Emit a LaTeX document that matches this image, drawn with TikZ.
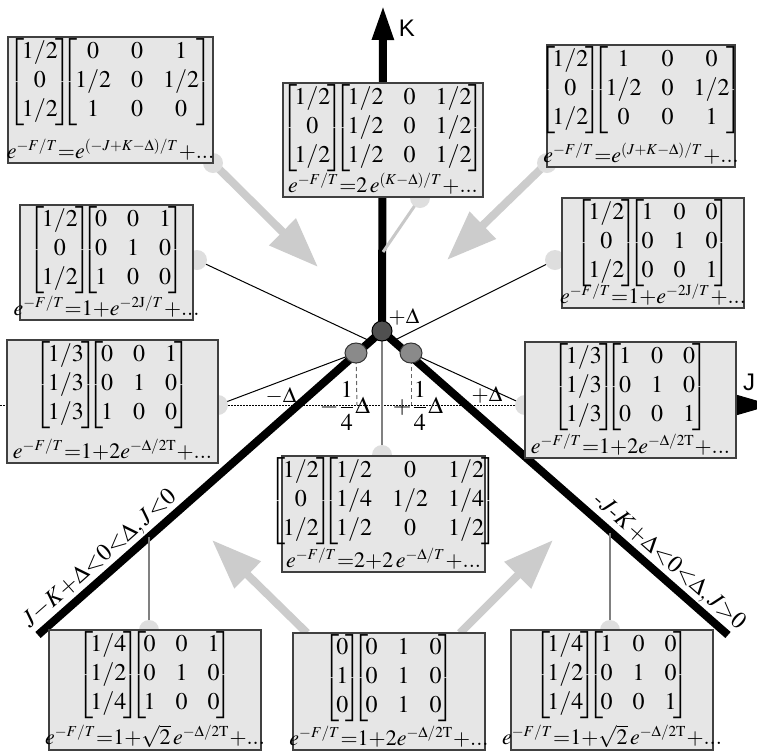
\documentclass[tikz,border=0pt]{standalone}
\usepackage{amsmath}
\usepackage{mathptmx}
\usepackage[no-math]{fontspec}
\newfontfamily\axisfont{Liberation Sans}
\usetikzlibrary{arrows.meta,shapes.geometric}
\DeclareMathSizes{12}{12}{8}{6}
\DeclareMathSizes{11}{11}{7.6}{5.5}

\definecolor{boxfill}{HTML}{E6E6E6}
\definecolor{arrowgray}{HTML}{CCCCCC}
\definecolor{capgray}{HTML}{DEDEDE}
\definecolor{dotdark}{HTML}{505050}
\definecolor{dotmid}{HTML}{8A8A8A}
\definecolor{linegray}{HTML}{808080}
\definecolor{lightline}{HTML}{C8C8C8}

\pgfdeclarelayer{lines}
\pgfdeclarelayer{caps}
\pgfsetlayers{lines,caps,main}

\newcommand\boxfont{\fontsize{12}{14.5}\selectfont}
\newcommand\formfont{\fontsize{11}{13}\selectfont}
\newcommand\BMat[1]{\left[\mkern-2mu\begin{matrix}#1\end{matrix}\mkern-2mu\right]}
\newcommand\VecH{\BMat{1/2\\0\\1/2}\mkern-9mu}
\newcommand\VecT{\BMat{1/3\\1/3\\1/3}\mkern-9mu}
\newcommand\VecQ{\BMat{1/4\\1/2\\1/4}\mkern-9mu}
\newcommand\VecZ{\BMat{0\\1\\0}\mkern-9mu}
\newcommand\MatI{\BMat{1&0&0\\0&1&0\\0&0&1}}
\newcommand\MatJ{\BMat{0&0&1\\0&1&0\\1&0&0}}
\newcommand\FE{e^{-F/T}{=}}

\newcommand\statebox[7]{%
  \node[statebg, minimum width={(#4-#2)*0.5pt}, minimum height={(#5-#3)*0.5pt}] (#1) at ({(#2+#4)/2},{(#3+#5)/2}) {};
  \node[anchor=north, inner sep=0pt, font=\boxfont] (#1m) at ([yshift=-1pt]#1.north) {$#6$};
  \node[anchor=south, inner sep=0pt, font=\formfont] (#1f) at ([yshift=1.4pt]#1.south) {$#7$};
}

\begin{document}
\begin{tikzpicture}[x=0.5pt,y=-0.5pt,
  statebg/.style={draw=black!75, fill=boxfill, line width=0.8pt, rectangle, inner sep=0pt},
  endcap/.style={circle, fill=capgray, minimum size=10pt, inner sep=0pt},
  cdot/.style={circle, fill=dotdark, draw=black, line width=0.5pt, minimum size=10pt, inner sep=0pt},
  gdot/.style={ellipse, fill=dotmid, draw=black!80, line width=0.5pt, minimum width=11pt, minimum height=10pt, inner sep=0pt},
  branch/.style={line width=4pt, black},
  bigarrow/.style={draw=arrowgray, line width=4pt, -{Triangle[length=25pt,width=18pt]}},
  thinline/.style={black, line width=0.5pt},
  grayline/.style={linegray, line width=0.75pt},
  lightconn/.style={lightline, line width=1.5pt},
  dropline/.style={black!60, line width=0.5pt, dash pattern=on 2pt off 1.5pt},
  axisdots/.style={black, line width=0.5pt, dash pattern=on 0.75pt off 0.75pt},
  axislabel/.style={font=\axisfont\fontsize{12}{14}\selectfont, inner sep=0pt},
  lbl/.style={font=\fontsize{11}{13}\selectfont, inner sep=0pt},
  fraclbl/.style={font=\fontsize{12}{14}\selectfont, inner sep=0pt},
  ]
\useasboundingbox (0,0) rectangle (757,751);

% key points
\coordinate (ktip) at (383,5);
\coordinate (jstart) at (0,405);
\coordinate (jtip) at (772,405);
\coordinate (lend) at (38,635);
\coordinate (rend) at (728,635);
\coordinate (kmid) at (383,252);
\coordinate (lhit) at (370,341);
\coordinate (rhit) at (395,340);
\coordinate (lproj) at (357,405);
\coordinate (rproj) at (411,405);
\coordinate (lbranch) at (149,537);
\coordinate (rbranch) at (610,533);
\coordinate (tltip) at (318,267);
\coordinate (trtip) at (447,260);
\coordinate (bltip) at (212,540);
\coordinate (brtip) at (553,540);

% boxes
\statebox{tl}{8}{37}{213}{163}{\VecH\BMat{0&0&1\\1/2&0&1/2\\1&0&0}}{\FE e^{(-J+K-\Delta)/T}{+}...}
\statebox{tc}{283}{83}{483}{197}{\VecH\BMat{1/2&0&1/2\\1/2&0&1/2\\1/2&0&1/2}}{\FE 2\,e^{(K-\Delta)/T}{+}...}
\statebox{tr}{547}{45}{735}{167}{\VecH\BMat{1&0&0\\1/2&0&1/2\\0&0&1}}{\FE e^{(J+K-\Delta)/T}{+}...}
\statebox{ml}{20}{205}{193}{320}{\VecH\MatJ}{\FE 1{+}e^{-2\mathrm{J}/T}{+}...}
\statebox{mr}{562}{198}{744}{308}{\VecH\MatI}{\FE 1{+}e^{-2\mathrm{J}/T}{+}...}
\statebox{jl}{7}{340}{218}{463}{\VecT\MatJ}{\FE 1{+}2e^{-\Delta/2\mathrm{T}}{+}...}
\statebox{jr}{525}{342}{736}{458}{\VecT\MatI}{\FE 1{+}2e^{-\Delta/2\mathrm{T}}{+}...}
\statebox{ce}{282}{456}{485}{572}{\VecH\BMat{1/2&0&1/2\\1/4&1/2&1/4\\1/2&0&1/2}}{\FE 2{+}2\,e^{-\Delta/T}{+}...}
\statebox{bl}{49}{630}{261}{750}{\VecQ\MatJ}{\FE 1{+}\sqrt{2}\,e^{-\Delta/2\mathrm{T}}{+}...}
\statebox{bc}{293}{633}{485}{750}{\VecZ\BMat{0&1&0\\0&1&0\\0&1&0}}{\FE 1{+}2e^{-\Delta/2\mathrm{T}}{+}...}
\statebox{br}{511}{630}{713}{750}{\VecQ\MatI}{\FE 1{+}\sqrt{2}\,e^{-\Delta/2\mathrm{T}}{+}...}

\coordinate (bcl) at (307,633);
\coordinate (bcr) at (460,633);

% connector end caps
\begin{pgfonlayer}{caps}
\node[endcap] (tlc) at (213,163) {};
\node[endcap] (trc) at (547,163) {};
\node[endcap] (tcc) at (420,198) {};
\node[endcap] (mlc) at (197,260) {};
\node[endcap] (mrc) at (555,260) {};
\node[endcap] (jlc) at (218,405) {};
\node[endcap] (jrc) at (525,405) {};
\node[endcap] (cec) at (382,455) {};
\node[endcap] (blc) at (149,630) {};
\node[endcap] (brc) at (610,630) {};
\end{pgfonlayer}

% dots
\node[cdot] (ctr) at (382,331) {};
\node[gdot] (ldot) at (356,353) {};
\node[gdot] (rdot) at (411,353) {};

% lines underneath
\begin{pgfonlayer}{lines}
\draw[axisdots, -{Triangle[length=17.5pt,width=10pt]}] (jstart) -- (jtip);
\draw[branch, -{Triangle[length=17.5pt,width=10pt]}] (ctr.center) -- (ktip);
\draw[branch] (ctr.center) -- (lend);
\draw[branch] (ctr.center) -- (rend);
\draw[bigarrow] (tlc.center) -- (tltip);
\draw[bigarrow] (trc.center) -- (trtip);
\draw[bigarrow] (bcl) -- (bltip);
\draw[bigarrow] (bcr) -- (brtip);
\draw[lightconn] (tcc.center) -- (kmid);
\draw[thinline] (mlc.center) -- (lhit);
\draw[thinline] (mrc.center) -- (rhit);
\draw[thinline] (jlc.center) -- (ldot.center);
\draw[thinline] (jrc.center) -- (rdot.center);
\draw[grayline] (ctr.center) -- (cec.center);
\draw[grayline] (lbranch) -- (blc.center);
\draw[grayline] (rbranch) -- (brc.center);
\draw[dropline] (ldot.center) -- (lproj);
\draw[dropline] (rdot.center) -- (rproj);
\end{pgfonlayer}

% labels
\node[axislabel] (klbl) at (407,28) {K};
\node[axislabel] (jlbl) at (749,382) {J};
\node[lbl] (pdc) at (404,317) {$+\Delta$};
\node[lbl] (mdl) at (281,396) {$-\Delta$};
\node[lbl] (pdr) at (487,395) {$+\Delta$};
\node[fraclbl] (mq) at (345,406) {$-\dfrac{1}{4}\Delta$};
\node[fraclbl] (pq) at (418,406) {$+\dfrac{1}{4}\Delta$};
\path (lend) -- (ctr.center) node[pos=0.21, sloped, above=2.5pt, font=\fontsize{12}{14}\selectfont, inner sep=0pt] (llbl) {$J{-}K{+}\Delta{<}0{<}\Delta,J{<}0$};
\path (ctr.center) -- (rend) node[pos=0.8, sloped, above=2.5pt, font=\fontsize{12}{14}\selectfont, inner sep=0pt] (rlbl) {$\text{-}J\text{-}K{+}\Delta{<}0{<}\Delta,J{>}0$};
\end{tikzpicture}
\end{document}
